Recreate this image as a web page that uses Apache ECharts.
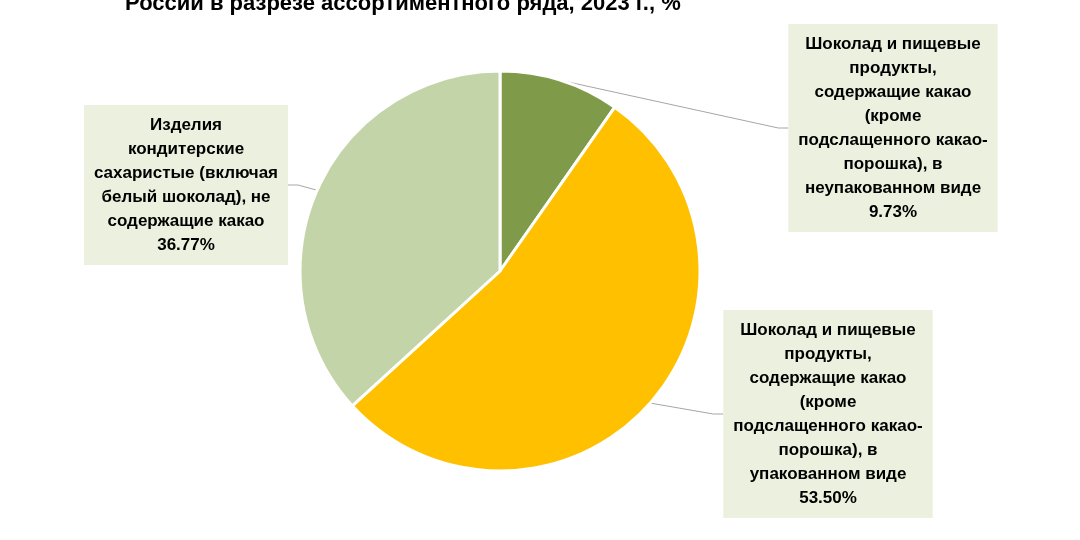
<!DOCTYPE html><html><head><meta charset="utf-8"><script src="https://cdn.jsdelivr.net/npm/echarts@6/dist/echarts.min.js"></script></head><body style="margin:0"><div id="c" style="width:1080px;height:540px"></div><script>
const names=["Шоколад и пищевые\nпродукты,\nсодержащие какао\n(кроме\nподслащенного какао-\nпорошка), в\nнеупакованном виде","Шоколад и пищевые\nпродукты,\nсодержащие какао\n(кроме\nподслащенного какао-\nпорошка), в\nупакованном виде","Изделия\nкондитерские\nсахаристые (включая\nбелый шоколад), не\nсодержащие какао"];
const values=[9.73,53.50,36.77];
const colors=["#7F9A48","#FFC000","#C3D5A8"];
const labelPos=[[893,128],[828,414],[186,185]];
const c=echarts.init(document.getElementById('c'));
c.setOption({
title:{text:"России в разрезе ассортиментного ряда, 2023 г., %",left:120,top:-12,textStyle:{fontFamily:"Liberation Sans",fontSize:22,fontWeight:'bold',color:'#000'}},
series:[{type:'pie',center:[500,271],radius:200,startAngle:90,clockwise:true,
data:names.map((n,i)=>({name:n,value:values[i],itemStyle:{color:colors[i]}})),
itemStyle:{borderColor:'#fff',borderWidth:3},
label:{formatter:p=>p.name+"\n"+p.value.toFixed(2)+"%",fontFamily:"Liberation Sans",fontSize:17,fontWeight:'bold',color:'#000',lineHeight:24,backgroundColor:'#EBF1DE',padding:[8,10],align:'center'},
labelLine:{show:true,lineStyle:{color:'#A6A6A6',width:1},length:10,length2:10},
labelLayout:p=>({x:labelPos[p.dataIndex][0],y:labelPos[p.dataIndex][1],align:'center',verticalAlign:'middle'})
}]});
</script></body></html>
